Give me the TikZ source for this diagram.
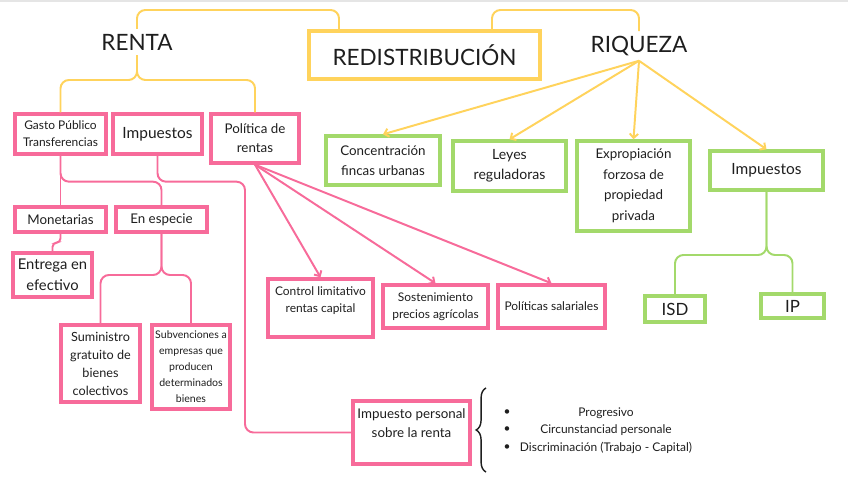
\documentclass[tikz,border=0pt]{standalone}
\usepackage{fontspec}
\setmainfont{Lato}
\usepackage{tikz}
\usetikzlibrary{arrows.meta, decorations.pathreplacing}
\usepackage{xcolor}
\definecolor{pinkline}{RGB}{247, 107, 154}
\definecolor{greenline}{RGB}{163, 217, 107}
\definecolor{yellowline}{RGB}{255, 211, 92}
\definecolor{inkcolor}{RGB}{30, 30, 30}

\begin{document}
\begin{tikzpicture}[x=0.025cm, y=-0.025cm, >={Straight Barb[length=3pt, width=6pt]},
  box/.style 2 args={minimum width=#1*0.025cm, minimum height=#2*0.025cm, inner sep=1pt, align=center, line width=2.4pt, text=inkcolor},
  pinkbox/.style={draw=pinkline},
  greenbox/.style={draw=greenline},
  headtext/.style={text=inkcolor, font=\fontsize{16}{19}\selectfont},
  itemtext/.style={text=inkcolor, font=\fontsize{8.5}{10}\selectfont},
  ylink/.style={yellowline, line width=1.4pt, rounded corners=6pt},
  plink/.style={pinkline, line width=1.4pt, rounded corners=6pt},
  glink/.style={greenline, line width=1.4pt, rounded corners=6pt}]

  \useasboundingbox (0,0) rectangle (848,477);
  \draw[gray!20, line width=1pt] (0,1) -- (848,1);

  % ---------- Top: redistribucion ----------
  \node[headtext] (renta) at (137,42) {RENTA};
  \node[draw=yellowline, box={231}{48}, font=\fontsize{16}{19}\selectfont] (redis) at (424.5,55) {REDISTRIBUCIÓN};
  \node[headtext] (riqueza) at (639,46) {RIQUEZA};

  \coordinate (topL) at (339,10);
  \coordinate (topR) at (492,10);
  \draw[ylink] (renta.north) |- (topL) -- (topL |- redis.north);
  \draw[ylink] (topR |- redis.north) -- (topR) -| (riqueza.north);

  % ---------- Left: renta ----------
  \node[pinkbox, box={91}{40}, font=\fontsize{8.5}{12}\selectfont] (gasto) at (60.5,134) {Gasto Público\\Transferencias};
  \node[pinkbox, box={89}{40}, font=\fontsize{11}{13}\selectfont] (impR) at (157.5,134) {Impuestos};
  \node[pinkbox, box={88}{49}, font=\fontsize{9.5}{13.5}\selectfont] (polR) at (255,138.5) {Política de\\rentas};
  \node[pinkbox, box={91}{25}, font=\fontsize{9.5}{12}\selectfont] (monet) at (60.5,219.5) {Monetarias};
  \node[pinkbox, box={91}{25}, font=\fontsize{9.5}{12}\selectfont] (especie) at (161.5,219.5) {En especie};
  \node[pinkbox, box={79}{44}, font=\fontsize{10.5}{15}\selectfont] (entrega) at (52.5,275) {Entrega en\\efectivo};
  \node[pinkbox, box={79}{77}, font=\fontsize{9}{12.8}\selectfont] (sumin) at (100.5,363.5) {Suministro\\gratuito de\\bienes\\colectivos};
  \node[pinkbox, box={78}{84}, font=\fontsize{7.5}{11.4}\selectfont] (subv) at (191,367) {Subvenciones a\\empresas que\\producen\\determinados\\bienes};
  \node[pinkbox, box={105}{58}, font=\fontsize{8.5}{12}\selectfont] (control) at (320.5,308) {Control limitativo\\rentas capital\\\mbox{}};
  \node[pinkbox, box={105}{43}, font=\fontsize{8.5}{12}\selectfont] (sosten) at (435.5,306.5) {Sostenimiento\\precios agrícolas};
  \node[pinkbox, box={107}{43}, font=\fontsize{8.5}{12}\selectfont] (salar) at (551.5,306.5) {Políticas salariales};
  \node[pinkbox, box={117}{63}, font=\fontsize{9.5}{13.5}\selectfont] (imppers) at (411.5,432.5) {Impuesto personal\\sobre la renta\\\mbox{}};

  \coordinate (jR) at (137,80);
  \draw[ylink] (renta.south) -- (jR) -| (gasto.north);
  \draw[ylink] (renta.south) -- (jR) -| (polR.north);

  \draw[plink] (gasto.south) -- (monet.north);
  \draw[plink] (gasto.south) -- ++(0,26) -| (especie.north);
  \draw[plink, rounded corners=3pt] (monet.south) -- ++(0,9) -| (entrega.north);

  \coordinate (jE) at (161.5,275);
  \draw[plink] (especie.south) -- (jE) -| (sumin.north);
  \draw[plink] (especie.south) -- (jE) -| (subv.north);

  \coordinate (kImp) at (245,432.5);
  \draw[plink] (impR.south) -- ++(0,26) -| (kImp) -- (imppers.west);

  \foreach \t in {control, sosten, salar}
    \draw[plink, ->] (polR.south) -- (\t.north);

  % ---------- Right: riqueza ----------
  \node[greenbox, box={114}{49}, font=\fontsize{9.5}{14}\selectfont] (concen) at (383,160.5) {Concentración\\fincas urbanas};
  \node[greenbox, box={113}{50}, font=\fontsize{10}{14}\selectfont] (leyes) at (509.5,166) {Leyes\\reguladoras};
  \node[greenbox, box={113}{90}, font=\fontsize{9.5}{14.6}\selectfont] (exprop) at (633.5,186) {Expropiación\\forzosa de\\propiedad\\privada};
  \node[greenbox, box={113}{39}, font=\fontsize{11}{13}\selectfont] (impG) at (766.5,170.5) {Impuestos};
  \node[greenbox, box={60}{26}, font=\fontsize{12}{14}\selectfont] (isd) at (675,309) {ISD};
  \node[greenbox, box={63}{24}, font=\fontsize{12}{14}\selectfont] (ip) at (792.5,306) {IP};

  \foreach \t in {concen, leyes, exprop, impG}
    \draw[ylink, ->] (riqueza.south) -- (\t.north);

  \coordinate (jI) at (766.5,255);
  \draw[glink] (impG.south) -- (jI) -| (isd.north);
  \draw[glink] (impG.south) -- (jI) -| (ip.north);

  % ---------- Bottom: impuesto personal ----------
  \coordinate (bBot) at (486,472);
  \coordinate (bTop) at (486,388);
  \draw[inkcolor, line width=1pt, decorate, decoration={brace, amplitude=7pt}] (bBot) -- (bTop);

  \foreach \i/\y in {1/413, 2/430, 3/448}
    \node[itemtext] (bul\i) at (507,\y) {\textbullet};
  \node[itemtext] (it1) at (606,413) {Progresivo};
  \node[itemtext] (it2) at (606,430) {Circunstanciad personale};
  \node[itemtext] (it3) at (606,448) {Discriminación (Trabajo - Capital)};

\end{tikzpicture}
\end{document}
